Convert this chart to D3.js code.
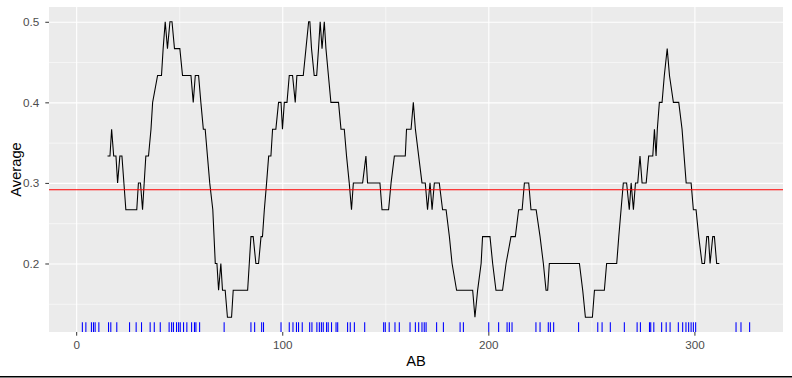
<!DOCTYPE html>
<html>
<head>
<meta charset="utf-8">
<script src="https://d3js.org/d3.v7.min.js"></script>
<style>
  body { margin: 0; background: #fff; }
  svg { display: block; font-family: "Liberation Sans", Arial, sans-serif; }
  .grid line { stroke: #fff; }
  .grid path { display: none; }
  .axis path { display: none; }
  .axis line { stroke: #333333; }
</style>
</head>
<body>
<div id="chart"></div>
<script>
// rolling average
var lineAB = [15.2, 16.4, 17.2, 18.2, 19.3, 20.1, 21.2, 22.2, 24.1, 29.4, 30.2, 31.2, 32.2, 33.8, 35.1, 36.3, 37.1, 39.5, 41.4, 42.2,
  43.2, 44.3, 45.5, 46.5, 47.7, 50.3, 51.6, 55.7, 56.8, 57.8, 59.4, 60.5, 61.7, 62.6, 63.7, 64.8, 66.3, 66.9, 67.5, 68.3,
  69.1, 70.2, 71.0, 72.3, 73.4, 75.4, 76.2, 83.2, 84.0, 84.8, 85.9, 87.2, 88.5, 89.7, 90.4, 91.3, 92.4, 93.4, 94.5, 95.3,
  96.9, 98.2, 99.4, 100.1, 101.0, 102.3, 103.4, 105.0, 106.3, 107.1, 110.2, 111.5, 112.8, 113.4, 114.2, 115.5, 116.7, 117.6, 118.4, 119.3,
  120.4, 121.2, 122.4, 123.6, 127.3, 128.5, 130.1, 131.2, 132.5, 133.6, 134.5, 139.0, 140.6, 141.4, 147.4, 148.4, 151.6, 152.8, 154.4, 159.7,
  160.3, 162.5, 163.6, 164.6, 166.2, 167.8, 169.4, 170.5, 171.7, 172.7, 173.8, 176.2, 177.8, 179.5, 181.1, 182.4, 184.6, 192.4, 193.5, 194.8,
  196.5, 197.2, 200.8, 202.1, 203.7, 206.9, 208.6, 211.0, 213.1, 214.7, 216.4, 217.5, 219.6, 220.7, 223.2, 225.1, 226.7, 228.0, 228.8, 229.6,
  244.2, 245.8, 247.1, 250.5, 251.5, 256.3, 257.4, 262.3, 263.3, 264.4, 265.5, 267.1, 268.4, 269.3, 270.4, 271.4, 272.5, 273.6, 274.6, 276.6,
  277.8, 279.8, 280.6, 281.4, 282.0, 283.0, 284.3, 285.4, 286.8, 287.9, 289.8, 292.4, 294.0, 295.0, 296.0, 298.4, 299.5, 300.8, 302.1, 303.7,
  304.9, 306.0, 306.8, 307.6, 308.9, 309.7, 310.8, 312.1];

var lineAvg = [0.3333, 0.3333, 0.3667, 0.3333, 0.3333, 0.3, 0.3333, 0.3333, 0.2667, 0.2667, 0.3, 0.3, 0.2667, 0.3333, 0.3333, 0.3667, 0.4, 0.4333, 0.4333, 0.4667,
  0.5, 0.4667, 0.5, 0.5, 0.4667, 0.4667, 0.4333, 0.4333, 0.4, 0.4333, 0.4333, 0.4, 0.3667, 0.3667, 0.3333, 0.3, 0.2667, 0.2333, 0.2, 0.2,
  0.1667, 0.2, 0.1667, 0.1667, 0.1333, 0.1333, 0.1667, 0.1667, 0.2, 0.2333, 0.2333, 0.2, 0.2, 0.2333, 0.2333, 0.2667, 0.3, 0.3333, 0.3333, 0.3667,
  0.3667, 0.4, 0.4, 0.3667, 0.4, 0.4, 0.4333, 0.4333, 0.4, 0.4333, 0.4333, 0.4667, 0.5, 0.5, 0.4667, 0.4333, 0.4333, 0.4667, 0.5, 0.4667,
  0.5, 0.4667, 0.4333, 0.4, 0.4, 0.3667, 0.3667, 0.3333, 0.3, 0.2667, 0.3, 0.3, 0.3333, 0.3, 0.3, 0.2667, 0.2667, 0.3, 0.3333, 0.3333,
  0.3667, 0.3667, 0.4, 0.3667, 0.3333, 0.3, 0.3, 0.2667, 0.3, 0.2667, 0.3, 0.3, 0.2667, 0.2667, 0.2333, 0.2, 0.1667, 0.1667, 0.1333, 0.1667,
  0.2, 0.2333, 0.2333, 0.2, 0.1667, 0.1667, 0.2, 0.2333, 0.2333, 0.2667, 0.2667, 0.3, 0.3, 0.2667, 0.2667, 0.2333, 0.2, 0.1667, 0.1667, 0.2,
  0.2, 0.1667, 0.1333, 0.1333, 0.1667, 0.1667, 0.2, 0.2, 0.2333, 0.2667, 0.3, 0.3, 0.2667, 0.3, 0.2667, 0.3, 0.3, 0.3333, 0.3, 0.3,
  0.3333, 0.3333, 0.3667, 0.3333, 0.3667, 0.4, 0.4, 0.4333, 0.4667, 0.4333, 0.4, 0.4, 0.3667, 0.3333, 0.3, 0.3, 0.2667, 0.2667, 0.2333, 0.2,
  0.2, 0.2333, 0.2333, 0.2, 0.2333, 0.2333, 0.2, 0.2];

// rug positions along AB
var rugAB = [3.0, 4.7, 7.4, 8.4, 9.2, 11.0, 15.7, 16.8, 19.7, 25.9, 29.1, 31.7, 35.9, 37.9, 40.8, 45.1, 46.3, 47.2, 48.7, 49.7,
  50.5, 52.1, 53.7, 56.0, 57.4, 58.1, 59.9, 71.8, 84.8, 86.6, 90.0, 90.9, 99.4, 103.4, 105.2, 106.9, 107.9, 109.7, 113.3, 114.4,
  116.8, 118.0, 119.0, 119.9, 121.5, 122.3, 123.9, 126.1, 126.9, 131.7, 133.0, 135.0, 140.0, 149.2, 150.0, 151.9, 154.7, 156.8, 162.0, 164.6,
  166.2, 167.8, 168.9, 169.8, 174.9, 178.2, 186.3, 187.9, 200.2, 205.0, 209.1, 210.2, 211.5, 223.1, 225.1, 229.1, 230.1, 231.7, 243.8, 253.1,
  255.2, 259.2, 266.0, 272.2, 273.8, 278.2, 278.8, 280.3, 284.1, 286.3, 288.2, 292.2, 294.3, 295.9, 297.2, 298.4, 299.5, 300.6, 320.2, 322.6,
  326.8];

var meanAvg = 0.2915;

var xTicks = [0, 100, 200, 300],
    xMinor = [50, 150, 250],
    yTicks = [0.2, 0.3, 0.4, 0.5],
    yMinor = [0.15, 0.25, 0.35, 0.45];

var margin = {top: 7, right: 9, bottom: 46, left: 49},
    width = 792 - margin.left - margin.right,
    height = 378 - margin.top - margin.bottom;

var data = lineAB.map(function(d, i) { return {ab: d, avg: lineAvg[i]}; });

// ggplot style 5% expansion
function expand(ext) {
  var pad = (ext[1] - ext[0]) * 0.05;
  return [ext[0] - pad, ext[1] + pad];
}

var x = d3.scaleLinear()
    .domain(expand(d3.extent(rugAB.concat(lineAB))))
    .range([0, width]);

var y = d3.scaleLinear()
    .domain(expand(d3.extent(lineAvg)))
    .range([height, 0]);

var svg = d3.select("#chart")
    .append("svg")
    .attr("width", 792)
    .attr("height", 378);

var g = svg.append("g")
    .attr("transform", "translate(" + margin.left + "," + margin.top + ")");

g.append("rect")
    .attr("width", width)
    .attr("height", height)
    .attr("fill", "#EBEBEB");

// minor grid
g.append("g")
    .attr("class", "grid")
    .attr("transform", "translate(0," + height + ")")
    .call(d3.axisBottom(x).tickValues(xMinor).tickSize(-height).tickFormat(""))
    .selectAll("line").attr("stroke-width", 0.55);

g.append("g")
    .attr("class", "grid")
    .call(d3.axisLeft(y).tickValues(yMinor).tickSize(-width).tickFormat(""))
    .selectAll("line").attr("stroke-width", 0.55);

// major grid
g.append("g")
    .attr("class", "grid")
    .attr("transform", "translate(0," + height + ")")
    .call(d3.axisBottom(x).tickValues(xTicks).tickSize(-height).tickFormat(""))
    .selectAll("line").attr("stroke-width", 1.1);

g.append("g")
    .attr("class", "grid")
    .call(d3.axisLeft(y).tickValues(yTicks).tickSize(-width).tickFormat(""))
    .selectAll("line").attr("stroke-width", 1.1);

var line = d3.line()
    .x(function(d) { return x(d.ab); })
    .y(function(d) { return y(d.avg); });

g.append("path")
    .datum(data)
    .attr("fill", "none")
    .attr("stroke", "#000")
    .attr("stroke-width", 1.07)
    .attr("d", line);

g.append("line")
    .attr("x1", 0)
    .attr("x2", width)
    .attr("y1", y(meanAvg))
    .attr("y2", y(meanAvg))
    .attr("stroke", "#FF0000")
    .attr("stroke-width", 1.07);

// rug
g.append("g")
    .selectAll("line")
    .data(rugAB)
    .enter().append("line")
    .attr("x1", function(d) { return x(d); })
    .attr("x2", function(d) { return x(d); })
    .attr("y1", height)
    .attr("y2", height - height * 0.03)
    .attr("stroke", "#0000FF")
    .attr("stroke-width", 1.07);

var xAxis = g.append("g")
    .attr("class", "axis")
    .attr("transform", "translate(0," + height + ")")
    .call(d3.axisBottom(x).tickValues(xTicks).tickSize(3.7).tickPadding(4.6).tickFormat(d3.format("d")));

var yAxis = g.append("g")
    .attr("class", "axis")
    .call(d3.axisLeft(y).tickValues(yTicks).tickSize(3.7).tickPadding(6).tickFormat(d3.format(".1f")));

svg.selectAll(".axis")
    .attr("font-family", "Liberation Sans, Arial, sans-serif")
    .attr("font-size", 11.7);
svg.selectAll(".axis text").attr("fill", "#4D4D4D");

svg.append("text")
    .attr("x", margin.left + width / 2)
    .attr("y", 366)
    .attr("text-anchor", "middle")
    .attr("font-size", "14.7px")
    .attr("fill", "#000")
    .text("AB");

svg.append("text")
    .attr("transform", "translate(21," + (margin.top + height / 2) + ") rotate(-90)")
    .attr("text-anchor", "middle")
    .attr("font-size", "14.7px")
    .attr("fill", "#000")
    .text("Average");

// frame line along the bottom edge
svg.append("rect")
    .attr("x", 0)
    .attr("y", 376)
    .attr("width", 792)
    .attr("height", 1.5)
    .attr("fill", "#000");
</script>
</body>
</html>
